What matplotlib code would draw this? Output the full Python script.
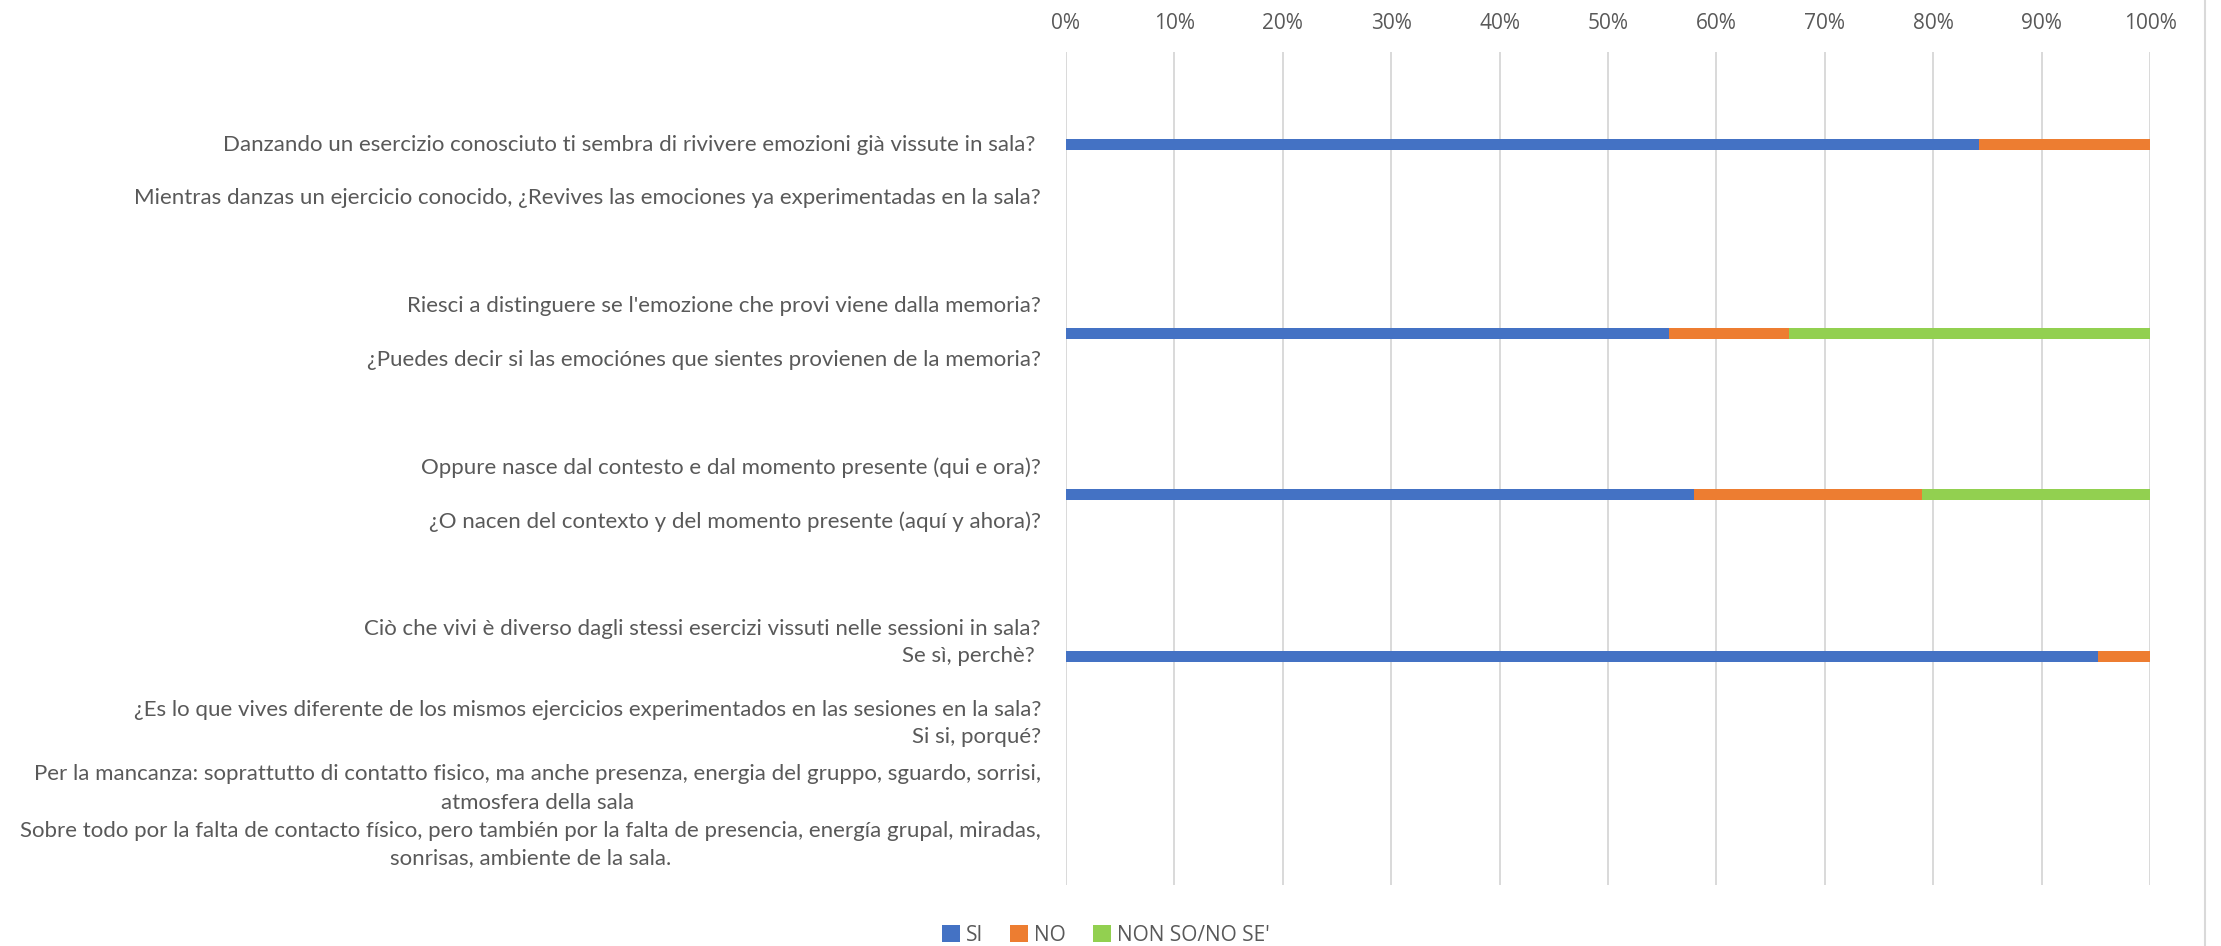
import matplotlib
matplotlib.use("Agg")
import matplotlib.pyplot as plt
from matplotlib.patches import Patch
from matplotlib.lines import Line2D

# ---- data -------------------------------------------------------------
series_names = ["SI", "NO", "NON SO/NO SE'"]
si_pct = [84.2, 55.6, 57.9, 95.2]
no_pct = [15.8, 11.1, 21.1, 4.8]
nonso_pct = [0.0, 33.3, 21.0, 0.0]

x_ticks = [0, 10, 20, 30, 40, 50, 60, 70, 80, 90, 100]
x_tick_labels = [f"{t}%" for t in x_ticks]

q1_lines = [
    "Danzando un esercizio conosciuto ti sembra di rivivere emozioni già vissute in sala? ",
    "Mientras danzas un ejercicio conocido, ¿Revives las emociones ya experimentadas en la sala?",
]
q2_lines = [
    "Riesci a distinguere se l'emozione che provi viene dalla memoria?",
    "¿Puedes decir si las emociónes que sientes provienen de la memoria?",
]
q3_lines = [
    "Oppure nasce dal contesto e dal momento presente (qui e ora)?",
    "¿O nacen del contexto y del momento presente (aquí y ahora)?",
]
q4_lines = [
    "Ciò che vivi è diverso dagli stessi esercizi vissuti nelle sessioni in sala?",
    "Se sì, perchè? ",
    "¿Es lo que vives diferente de los mismos ejercicios experimentados en las sesiones en la sala?",
    "Si si, porqué?",
]
q4_notes = [
    ("Per la mancanza: soprattutto di contatto fisico, ma anche presenza, energia del gruppo, sguardo, sorrisi,",
     "atmosfera della sala"),
    ("Sobre todo por la falta de contacto físico, pero también por la falta de presencia, energía grupal, miradas,",
     "sonrisas, ambiente de la sala."),
]

# ---- layout (y measured in text-line units) ----------------------------
row_pos = [0, 7, 13, 19]
line_offsets = [[0, 2], [-1, 1], [-1, 1], [-1, 0, 2, 3]]
note_offsets = [(4.37, 5.47), (6.50, 7.50)]
note_widths_px = [1013, 1027]   # wrapped note lines fill the label column

colors = ["#4472C4", "#ED7D31", "#92D050"]
text_gray = "#595959"
grid_gray = "#D9D9D9"
label_font = ["Lato", "DejaVu Sans"]
axis_font = ["Open Sans", "DejaVu Sans"]
label_size = 16.0

W, H, DPI = 2221, 946, 100
fig = plt.figure(figsize=(W / DPI, H / DPI), dpi=DPI)
ax_left, ax_right, ax_top, ax_bottom = 1066, 2150, 52, 885
ax = fig.add_axes([ax_left / W, 1 - ax_bottom / H,
                   (ax_right - ax_left) / W, (ax_bottom - ax_top) / H])

bar_h = 0.41
left = [0.0] * len(si_pct)
for vals, name, col in zip([si_pct, no_pct, nonso_pct], series_names, colors):
    ax.barh(row_pos, vals, left=left, height=bar_h, color=col, label=name,
            edgecolor="none", zorder=3)
    left = [l + v for l, v in zip(left, vals)]

ax.set_xlim(0, 100)
ax.set_ylim(27.5, -3.44)
ax.set_xticks(x_ticks)
ax.set_xticklabels(x_tick_labels, family=axis_font, fontsize=15, color=text_gray)
ax.xaxis.tick_top()
ax.tick_params(axis="x", length=0, pad=13)
ax.set_yticks([])
for s in ax.spines.values():
    s.set_visible(False)
ax.grid(axis="x", color=grid_gray, linewidth=1.4, zorder=0)
ax.set_axisbelow(True)

# ---- question labels --------------------------------------------------
label_x = -25 / (ax_right - ax_left)
label_kw = dict(transform=ax.get_yaxis_transform(), family=label_font,
                color=text_gray, va="center")

for pos, lines, offs in zip(row_pos, [q1_lines, q2_lines, q3_lines, q4_lines], line_offsets):
    for line, off in zip(lines, offs):
        ax.text(label_x, pos + off, line, ha="right", fontsize=label_size, **label_kw)

fig.canvas.draw()
renderer = fig.canvas.get_renderer()
inv = ax.transAxes.inverted()
for (long_line, short_line), (off_a, off_b), target in zip(q4_notes, note_offsets, note_widths_px):
    t = ax.text(label_x, row_pos[3] + off_a, long_line, ha="right", fontsize=label_size, **label_kw)
    bb = t.get_window_extent(renderer)
    size = min(label_size, label_size * target / bb.width)
    t.set_fontsize(size)
    bb = t.get_window_extent(renderer)
    cx = inv.transform(((bb.x0 + bb.x1) / 2, 0))[0]
    ax.text(cx, row_pos[3] + off_b, short_line, ha="center", fontsize=size, **label_kw)

# ---- legend and frame -------------------------------------------------
handles = [Patch(facecolor=c, edgecolor="none", label=n) for c, n in zip(colors, series_names)]
fig.legend(handles=handles, loc="center", bbox_to_anchor=(0.498, 1 - 935 / H), ncol=3,
           frameon=False, handlelength=0.85, handleheight=0.85, handletextpad=0.3,
           columnspacing=1.3, prop={"family": axis_font, "size": 15}, labelcolor=text_gray)

fig.add_artist(Line2D([2205 / W] * 2, [0, 1], transform=fig.transFigure,
                      color=grid_gray, linewidth=1.5))

fig.savefig("out.png", dpi=DPI, facecolor="white")
